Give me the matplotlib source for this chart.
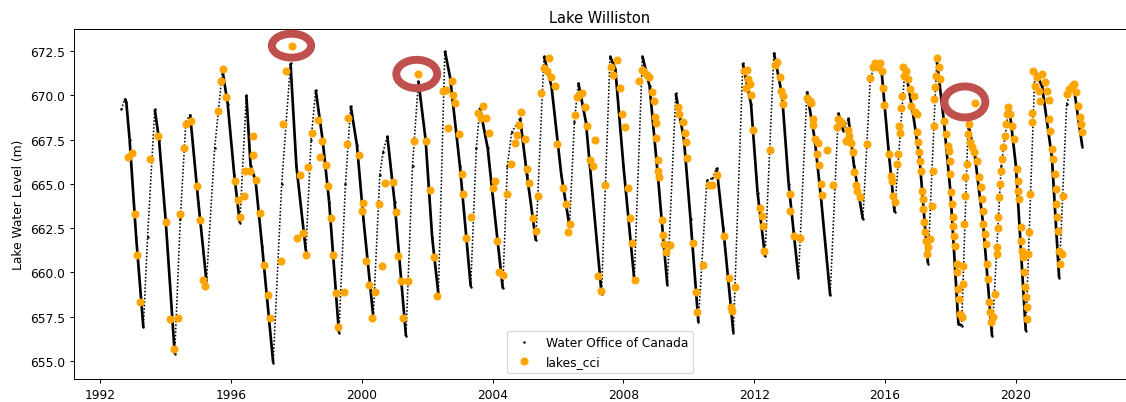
import matplotlib.pyplot as plt
import numpy as np
from matplotlib.collections import LineCollection
from matplotlib.patches import Ellipse

# Water Office of Canada gauge (decimal year, level in m)
wo_year = [
    1992.65, 1992.75, 1992.80, 1992.90, 1993.10, 1993.32, 1993.45, 1993.67, 1993.80, 1994.00,
    1994.28, 1994.45, 1994.62, 1994.75, 1995.00, 1995.25, 1995.50, 1995.74, 1995.90, 1996.10,
    1996.27, 1996.47, 1996.60, 1996.75, 1996.95, 1997.29, 1997.55, 1997.82, 1998.00, 1998.29,
    1998.45, 1998.59, 1998.80, 1999.00, 1999.30, 1999.50, 1999.66, 1999.85, 2000.05, 2000.35,
    2000.55, 2000.65, 2000.78, 2001.00, 2001.35, 2001.55, 2001.73, 2001.95, 2002.15, 2002.34,
    2002.54, 2002.70, 2003.00, 2003.33, 2003.50, 2003.61, 2003.85, 2004.05, 2004.31, 2004.45,
    2004.58, 2004.84, 2005.05, 2005.32, 2005.57, 2005.80, 2006.10, 2006.35, 2006.50, 2006.62,
    2006.85, 2007.05, 2007.33, 2007.59, 2007.75, 2008.00, 2008.33, 2008.58, 2008.80, 2009.05,
    2009.34, 2009.60, 2009.85, 2010.05, 2010.29, 2010.55, 2010.72, 2010.85, 2011.05, 2011.36,
    2011.65, 2011.90, 2012.10, 2012.33, 2012.60, 2012.85, 2013.05, 2013.35, 2013.61, 2013.85,
    2014.05, 2014.32, 2014.57, 2014.72, 2014.88, 2015.05, 2015.32, 2015.55, 2015.75, 2015.90,
    2016.10, 2016.29, 2016.61, 2016.85, 2017.05, 2017.31, 2017.58, 2017.80, 2018.00, 2018.24,
    2018.34, 2018.54, 2018.75, 2019.00, 2019.27, 2019.55, 2019.79, 2020.00, 2020.30, 2020.58,
    2020.80, 2021.10, 2021.32, 2021.55, 2021.75, 2022.03,
]
wo_level = [
    669.2, 669.8, 669.6, 667.5, 662.0, 656.9, 662.0, 669.2, 667.5, 663.0,
    655.4, 663.0, 668.5, 668.9, 664.0, 659.5, 667.0, 671.4, 669.5, 665.5,
    662.8, 670.0, 666.0, 665.2, 661.5, 654.9, 665.0, 671.8, 666.0, 661.2,
    667.5, 670.3, 667.5, 664.0, 656.6, 665.0, 669.4, 667.2, 663.0, 657.5,
    665.5, 666.8, 667.7, 664.0, 656.4, 666.0, 670.8, 667.5, 662.0, 658.8,
    672.5, 671.0, 666.0, 659.2, 667.0, 669.3, 667.0, 663.5, 659.1, 666.0,
    667.9, 668.7, 665.5, 661.8, 672.2, 670.5, 665.5, 662.6, 668.5, 670.7,
    668.5, 664.5, 658.8, 672.2, 671.5, 666.0, 659.6, 672.2, 670.5, 665.5,
    659.3, 670.1, 667.5, 663.0, 657.2, 665.2, 665.3, 665.9, 662.5, 656.6,
    671.8, 669.5, 664.5, 660.9, 672.4, 670.0, 665.0, 659.7, 670.2, 667.5,
    664.0, 658.7, 669.0, 668.0, 668.7, 666.0, 663.0, 671.0, 671.9, 671.2,
    667.0, 663.4, 671.6, 669.0, 666.5, 660.5, 672.0, 668.5, 664.5, 657.1,
    657.0, 668.4, 666.5, 662.7, 656.4, 666.0, 669.4, 666.0, 656.7, 671.4,
    670.5, 666.5, 659.7, 669.5, 670.7, 667.1,
]

# lakes_cci altimetry (decimal year, level in m)
cci_year = [
    1992.86, 1992.98, 1993.06, 1993.13, 1993.23, 1993.52, 1993.77, 1994.01, 1994.15, 1994.25,
    1994.39, 1994.44, 1994.56, 1994.62, 1994.79, 1994.95, 1995.05, 1995.13, 1995.22, 1995.61,
    1995.68, 1995.75, 1995.86, 1996.12, 1996.22, 1996.29, 1996.39, 1996.44, 1996.58, 1996.66,
    1996.68, 1996.75, 1996.90, 1997.02, 1997.14, 1997.19,
    1997.52, 1997.60, 1997.67, 1997.88, 1998.01, 1998.11, 1998.19, 1998.28, 1998.36, 1998.49,
    1998.65, 1998.72, 1998.79, 1998.92, 1998.97, 1999.06, 1999.11, 1999.21, 1999.28, 1999.45,
    1999.54, 1999.59, 1999.92, 2000.05, 2000.01, 2000.12, 2000.22, 2000.30, 2000.40, 2000.53,
    2000.62, 2000.71, 2000.96, 2001.04, 2001.11, 2001.20, 2001.27, 2001.42, 2001.60, 2001.73,
    2001.96, 2002.08, 2002.22, 2002.31, 2002.49, 2002.56, 2002.62,
    2002.75, 2002.80, 2002.85, 2002.98, 2003.05, 2003.10, 2003.19, 2003.33, 2003.56, 2003.63,
    2003.72, 2003.79, 2003.90, 2004.00, 2004.07, 2004.14, 2004.19, 2004.31, 2004.45, 2004.55,
    2004.67, 2004.73, 2004.81, 2004.86, 2004.99, 2005.06, 2005.12, 2005.22, 2005.32, 2005.39,
    2005.48, 2005.57, 2005.65, 2005.72, 2005.78, 2005.91, 2005.96, 2006.16, 2006.23, 2006.31,
    2006.37, 2006.52, 2006.57, 2006.65, 2006.74, 2006.81, 2006.88, 2006.98, 2007.06, 2007.14,
    2007.44, 2007.23, 2007.31, 2007.61, 2007.69,
    2007.81, 2007.88, 2007.96, 2008.04, 2008.15, 2008.20, 2008.27, 2008.35, 2008.48, 2008.56,
    2008.64, 2008.71, 2008.79, 2008.88, 2008.93, 2008.95, 2008.98, 2009.01, 2009.07, 2009.07,
    2009.10, 2009.19, 2009.22, 2009.24, 2009.29, 2009.42, 2009.66, 2009.71, 2009.81, 2009.88,
    2009.92, 2009.95, 2010.14, 2010.22, 2010.26, 2010.42, 2010.63, 2010.70, 2010.87, 2011.06,
    2011.23, 2011.28, 2011.33, 2011.41, 2011.69, 2011.77, 2011.75, 2011.82, 2011.87, 2011.89,
    2011.97, 2012.18, 2012.23, 2012.26, 2012.30, 2012.48, 2012.62, 2012.69, 2012.79, 2012.81,
    2012.87, 2012.89, 2013.09, 2013.09,
    2013.22, 2013.40, 2013.61, 2013.69, 2013.73, 2013.78, 2013.81, 2013.87, 2013.94, 2013.91,
    2013.99, 2014.04, 2014.06, 2014.22, 2014.42, 2014.52, 2014.55, 2014.62, 2014.68, 2014.80,
    2014.86, 2014.91, 2014.95, 2015.01, 2015.05, 2015.11, 2015.15, 2015.24, 2015.44, 2015.54,
    2015.62, 2015.70, 2015.77, 2015.85, 2015.90, 2015.95, 2015.98, 2016.13, 2016.18, 2016.22,
    2016.24, 2016.29, 2016.36, 2016.39, 2016.43, 2016.44, 2016.48, 2016.51, 2016.56, 2016.58,
    2016.64, 2016.69, 2016.75, 2016.79, 2016.87, 2016.92, 2016.97, 2016.99, 2017.02, 2017.05,
    2017.07, 2017.09, 2017.12, 2017.15, 2017.17, 2017.20, 2017.22, 2017.24, 2017.28, 2017.31,
    2017.38, 2017.43, 2017.46, 2017.48, 2017.50, 2017.53, 2017.56, 2017.60, 2017.66, 2017.68,
    2017.79, 2017.87, 2017.91, 2017.94, 2017.97, 2017.99, 2018.01, 2018.04, 2018.07, 2018.09,
    2018.11, 2018.14, 2018.19, 2018.21, 2018.24, 2018.27, 2018.29,
    2018.34, 2018.37, 2018.39, 2018.41, 2018.43, 2018.45, 2018.49, 2018.54, 2018.57, 2018.61,
    2018.67, 2018.74, 2018.71, 2018.80, 2018.88, 2018.92, 2018.95, 2018.98, 2019.00, 2019.05,
    2019.10, 2019.12, 2019.15, 2019.18, 2019.22, 2019.25, 2019.31, 2019.36, 2019.41, 2019.43,
    2019.44, 2019.46, 2019.49, 2019.51, 2019.53, 2019.56, 2019.61, 2019.66, 2019.69, 2019.73,
    2019.76, 2019.81, 2019.87, 2019.94, 2020.02, 2020.05, 2020.07, 2020.10, 2020.14, 2020.17,
    2020.20, 2020.22, 2020.24, 2020.27, 2020.30, 2020.33, 2020.35, 2020.38, 2020.41, 2020.43,
    2020.48, 2020.49, 2020.53, 2020.58, 2020.65, 2020.71, 2020.75, 2020.81, 2020.89, 2020.96,
    2021.00, 2021.02, 2021.04, 2021.09, 2021.14, 2021.19, 2021.22, 2021.24, 2021.26, 2021.29,
    2021.32, 2021.36, 2021.40, 2021.45, 2021.55, 2021.63, 2021.70, 2021.77, 2021.83, 2021.90,
    2021.96, 2021.98, 2022.01,
]
cci_level = [
    666.53, 666.74, 663.29, 661.00, 658.34, 666.40, 667.72, 662.82, 657.36, 655.67,
    657.40, 663.29, 667.00, 668.37, 668.56, 664.89, 662.97, 659.57, 659.25, 669.13,
    670.78, 671.48, 669.92, 665.17, 664.08, 663.14, 664.33, 665.74, 665.70, 667.72,
    666.64, 665.21, 663.35, 660.43, 658.74, 657.40,
    660.66, 668.37, 671.39, 672.80, 661.92, 665.51, 662.22, 660.96, 665.97, 667.85,
    668.62, 666.53, 667.40, 666.08, 664.87, 663.05, 661.00, 658.81, 656.89, 658.89,
    667.24, 668.69, 666.62, 663.90, 663.44, 660.62, 659.30, 657.40, 658.91, 663.86,
    660.38, 665.04, 665.08, 663.39, 660.94, 659.53, 657.40, 659.53, 667.43, 671.20,
    667.43, 664.65, 660.88, 658.68, 670.26, 670.29, 668.13,
    670.78, 670.03, 669.56, 667.81, 665.55, 664.42, 661.92, 663.10, 668.98, 668.69,
    669.39, 668.69, 667.87, 664.74, 665.17, 661.75, 660.00, 659.87, 664.42, 666.12,
    667.30, 667.75, 668.32, 669.03, 667.51, 665.81, 665.04, 663.05, 662.31, 664.33,
    670.11, 671.52, 671.39, 672.10, 671.01, 670.54, 667.24, 664.74, 663.86, 662.30,
    662.73, 668.90, 669.88, 670.01, 670.14, 669.32, 668.28, 666.34, 666.02, 667.47,
    664.95, 659.81, 658.96, 671.57, 671.16,
    671.99, 670.39, 668.94, 668.22, 664.74, 663.05, 661.66, 659.59, 670.78, 671.42,
    671.29, 671.16, 671.01, 670.16, 669.69, 668.75, 668.41, 667.58, 666.34, 665.70,
    665.40, 662.95, 662.13, 661.60, 661.13, 661.54, 669.35, 668.94, 668.47, 667.85,
    667.34, 666.45, 661.66, 658.91, 657.78, 660.43, 664.95, 664.95, 665.51, 662.07,
    659.68, 658.02, 657.83, 659.19, 671.39, 671.44, 670.41, 670.91, 670.63, 670.03,
    668.04, 663.63, 663.20, 662.60, 661.18, 666.92, 671.72, 671.86, 671.01, 670.22,
    669.98, 669.50, 664.42, 663.48,
    662.07, 661.92, 669.84, 669.65, 669.54, 668.66, 668.34, 667.53, 667.28, 666.68,
    666.08, 664.99, 664.37, 666.91, 664.95, 668.19, 668.66, 668.56, 668.41, 667.43,
    668.04, 667.72, 667.28, 666.81, 665.68, 664.95, 664.61, 664.27, 667.24, 670.97,
    671.61, 671.80, 671.57, 671.80, 671.39, 670.39, 669.45, 666.68, 665.46, 665.17,
    664.33, 663.95, 666.12, 666.68, 668.28, 667.85, 669.28, 669.98, 671.57, 671.10,
    671.39, 670.91, 670.35, 669.41, 669.98, 669.03, 668.94, 667.90, 667.34, 666.77,
    666.30, 665.74, 664.61, 664.14, 663.57, 662.82, 662.26, 661.79, 661.03, 661.41,
    661.88, 663.76, 665.74, 668.28, 669.79, 670.44, 671.10, 672.10, 671.57, 670.91,
    668.56, 667.81, 667.15, 666.87, 666.30, 665.55, 664.52, 663.86, 663.10, 662.63,
    662.07, 661.50, 660.47, 660.00, 659.06, 658.49, 657.65,
    657.46, 660.38, 659.34, 662.73, 664.33, 665.36, 666.12, 667.81, 668.37, 667.34,
    667.06, 669.54, 666.77, 666.30, 665.36, 664.80, 664.14, 663.48, 662.73, 662.16,
    661.60, 660.47, 659.62, 658.31, 657.74, 657.18, 657.46, 658.78, 661.03, 661.41,
    662.50, 663.10, 664.23, 664.99, 665.74, 666.40, 667.06, 667.72, 668.37, 668.94,
    669.32, 668.94, 668.28, 667.53, 665.83, 665.17, 664.61, 664.14, 662.54, 661.79,
    661.22, 660.85, 660.00, 659.15, 658.59, 658.02, 657.36, 661.03, 662.26, 664.42,
    668.47, 668.98, 671.39, 670.54, 671.01, 670.26, 669.69, 671.20, 670.73, 670.26,
    669.73, 668.66, 668.00, 666.96, 666.40, 665.55, 664.70, 663.86, 663.10, 662.35,
    661.22, 660.47, 661.03, 664.33, 670.07, 670.35, 670.54, 670.63, 670.16, 669.41,
    668.75, 668.37, 667.90,
]

# circled outliers: (year, level, width in years, height in m)
outlier_year = [1997.85, 2001.68, 2018.44]
outlier_level = [672.80, 671.20, 669.62]
ellipse_w = [1.20, 1.25, 1.25]
ellipse_h = [1.35, 1.60, 1.75]

year_ticks = [1992, 1996, 2000, 2004, 2008, 2012, 2016, 2020]

fig = plt.figure(figsize=(1126 / 88, 403 / 88), dpi=88)
ax = fig.add_axes([74 / 1126, 1 - 380 / 403, 1051.5 / 1126, 350 / 403])

# daily gauge: sparse (dotted) on the fast spring rise, dense on the slow drawdown
pts = np.column_stack([wo_year, wo_level])
segs = np.stack([pts[:-1], pts[1:]], axis=1)
rising = np.diff(wo_level) > 0
ax.add_collection(LineCollection(segs[rising], colors="black", lw=1.3,
                                 linestyles=[(0, (1.0, 1.2))], zorder=2))
ax.add_collection(LineCollection(segs[~rising], colors="black", lw=2.2,
                                 zorder=2))
ax.plot(wo_year, wo_level, ".", color="black", ms=2, zorder=2,
        label="Water Office of Canada")
ax.plot(cci_year, cci_level, "o", color="orange", ms=5.6, zorder=3,
        label="lakes_cci")

for x, y, w, h in zip(outlier_year, outlier_level, ellipse_w, ellipse_h):
    ax.add_patch(Ellipse((x, y), w, h, fill=False, edgecolor="#c0504d",
                         lw=6.5, zorder=4))

ax.set_xlim(1991.2, 2023.35)
ax.set_ylim(653.98, 673.74)
ax.set_xticks(year_ticks)
ax.set_xticklabels([str(t) for t in year_ticks])
ax.set_ylabel("Lake Water Level (m)")
ax.set_title("Lake Williston")
ax.legend(loc="lower center")

fig.savefig("out.png", dpi=88)
